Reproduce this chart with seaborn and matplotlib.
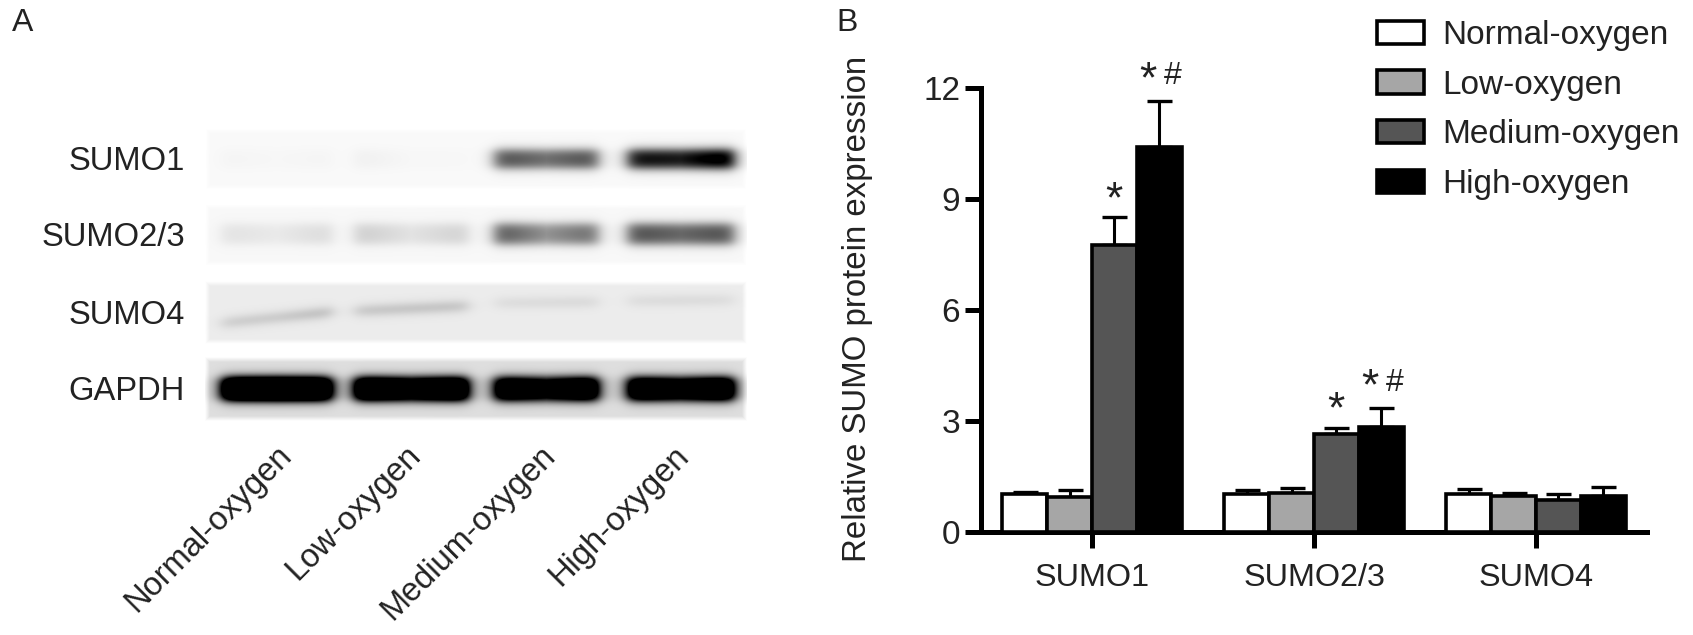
import numpy as np
import pandas as pd
import matplotlib
matplotlib.use("Agg")
import matplotlib.pyplot as plt
import seaborn as sns

W, H = 1693, 635

proteins = ["SUMO1", "SUMO2/3", "SUMO4"]
groups = ["Normal-oxygen", "Low-oxygen", "Medium-oxygen", "High-oxygen"]
normal_vals = [1.03, 1.03, 1.03]
low_vals = [0.95, 1.05, 0.97]
medium_vals = [7.77, 2.65, 0.87]
high_vals = [10.4, 2.83, 0.98]
normal_err = [0.06, 0.10, 0.12]
low_err = [0.18, 0.13, 0.08]
medium_err = [0.74, 0.17, 0.16]
high_err = [1.25, 0.52, 0.24]
star_medium = [True, True, False]
star_high = [True, True, False]
hash_high = [True, True, False]

# band darkness per lane, read as left / middle / right of each band
blot_names = ["SUMO1", "SUMO2/3", "SUMO4", "GAPDH"]
sumo1_bands = [[0.02, 0.01, 0.02], [0.04, 0.01, 0.01], [0.72, 0.58, 0.72], [1.0, 0.95, 1.25]]
sumo23_bands = [[0.09, 0.06, 0.12], [0.18, 0.09, 0.16], [0.68, 0.42, 0.58], [0.7, 0.6, 0.7]]
sumo4_bands = [[0.2, 0.22, 0.3], [0.24, 0.26, 0.26], [0.1, 0.11, 0.12], [0.1, 0.11, 0.1]]
gapdh_bands = [[1.9, 2.0, 1.9], [1.9, 1.5, 1.9], [1.7, 1.3, 1.8], [1.7, 1.4, 1.8]]
blot_background = [0.975, 0.97, 0.925, 0.87]

# figure layout in pixels
blot_boxes = [(205, 128, 747, 190), (205, 204, 747, 266), (205, 281, 747, 344), (205, 357, 747, 421)]
lane_edges = [(222, 332), (355, 468), (495, 598), (628, 734)]
band_rows = [
    [(159, 159)] * 4,
    [(234, 234)] * 4,
    [(323, 312), (311, 306), (303, 302), (301, 300)],
    [(389, 389)] * 4,
]
band_halfheight = [9, 10, 3.5, 11]
blot_label_right = 185
blot_label_y = [161, 238, 315, 391]
lane_label_ends = [(276, 440), (405, 440), (540, 440), (673, 440)]
lane_labels = groups


def fx(px):
    return px / W


def fy(py):
    return 1 - py / H


def add_axes_px(x0, y0, x1, y1):
    return fig.add_axes([fx(x0), fy(y1), (x1 - x0) / W, (y1 - y0) / H])


def blot_grid(box, levels, rows, half, background):
    x0, y0, x1, y1 = box
    xs, ys = np.meshgrid(np.arange(x0, x1) + 0.5, np.arange(y0, y1) + 0.5)
    dark = np.zeros_like(xs)
    for (left, right), lev, (yl, yr) in zip(lane_edges, levels, rows):
        t = (xs - left) / (right - left)
        level = np.interp(t, [0, 0.5, 1], lev)
        centre = yl + (yr - yl) * np.clip(t, 0, 1)
        across = 0.5 * (np.tanh((xs - left) / 9) - np.tanh((xs - right) / 9))
        along = 0.5 * (np.tanh((ys - centre + half) / 5.5) - np.tanh((ys - centre - half) / 5.5))
        dark += level * across * along
    edge = np.minimum.reduce([xs - x0, x1 - xs, ys - y0, y1 - ys])
    fade = np.clip(edge / 5, 0, 1)
    base = 1 - (1 - background) * fade
    return np.clip(base - dark, 0, 1)


sns.set_style("ticks")
plt.rcParams["font.family"] = ["Liberation Sans", "DejaVu Sans"]
plt.rcParams["text.color"] = "#222222"

fig = plt.figure(figsize=(W / 100, H / 100), dpi=100)

# panel A
all_bands = [sumo1_bands, sumo23_bands, sumo4_bands, gapdh_bands]
for i, name in enumerate(blot_names):
    ax_blot = add_axes_px(*blot_boxes[i])
    grid = blot_grid(blot_boxes[i], all_bands[i], band_rows[i], band_halfheight[i], blot_background[i])
    sns.heatmap(grid, ax=ax_blot, cmap="gray", vmin=0, vmax=1, cbar=False,
                xticklabels=False, yticklabels=False, rasterized=True)
    fig.text(fx(blot_label_right), fy(blot_label_y[i]), name, fontsize=23.6, ha="right", va="center")

for label, (px, py) in zip(lane_labels, lane_label_ends):
    fig.text(fx(px), fy(py), label, fontsize=23.5, rotation=45, ha="right", va="top",
             rotation_mode="anchor")

fig.text(fx(12), fy(23), "A", fontsize=23, ha="left", va="center")
fig.text(fx(836), fy(23), "B", fontsize=23, ha="left", va="center")

# panel B
df = pd.DataFrame({
    "protein": proteins * 4,
    "group": np.repeat(groups, 3),
    "value": normal_vals + low_vals + medium_vals + high_vals,
})
errs = normal_err + low_err + medium_err + high_err
palette = ["#ffffff", "#a6a6a6", "#555555", "#000000"]

ax = add_axes_px(981, 88, 1647, 532)
sns.barplot(data=df, x="protein", y="value", hue="group", palette=palette, errorbar=None,
            width=0.81, gap=0, saturation=1, edgecolor="black", linewidth=2.6, ax=ax, zorder=3)

bars = [p for p in ax.patches if p.get_height() > 0][:12]
centres = [p.get_x() + p.get_width() / 2 for p in bars]
heights = [p.get_height() for p in bars]
ax.errorbar(centres, heights, yerr=[np.zeros(12), errs], fmt="none", ecolor="black",
            elinewidth=2.2, capsize=9, capthick=2.4, zorder=2)


def mark_above(idx, text, dx, dy, size):
    ax.annotate(text, (centres[idx], heights[idx] + errs[idx]), xytext=(dx, dy),
                textcoords="offset points", ha="center", va="bottom", fontsize=size,
                annotation_clip=False)


for j in range(3):
    if star_medium[j]:
        mark_above(6 + j, "*", -0.5, -3, 32)
    if star_high[j]:
        mark_above(9 + j, "*", -8, -0.5, 32)
    if hash_high[j]:
        mark_above(9 + j, "#", 9.5, 7, 23)

ax.set_xlim(-0.5, 2.5)
ax.set_ylim(0, 12)
ax.set_yticks([0, 3, 6, 9, 12])
ax.set_xlabel("")
ax.set_ylabel("Relative SUMO protein expression", fontsize=23.8, color="#222222")
ax.yaxis.set_label_coords((873 - 981) / 666, 0.503)
ax.tick_params(axis="both", length=11.5, width=3.6, color="black", labelcolor="#222222")
ax.tick_params(axis="y", labelsize=24, pad=3.5)
ax.tick_params(axis="x", labelsize=23.3, pad=11)
for side in ["left", "bottom"]:
    ax.spines[side].set_linewidth(3.6)
    ax.spines[side].set_color("black")
sns.despine(ax=ax)

handles, labels = ax.get_legend_handles_labels()
ax.legend(handles, labels, loc="upper left", bbox_to_anchor=(fx(1377), fy(20)),
          bbox_transform=fig.transFigure, frameon=False, fontsize=24, borderpad=0,
          borderaxespad=0, handlelength=1.42, handleheight=0.7, handletextpad=0.55,
          labelspacing=0.56)

fig.savefig("out.png", dpi=100)
